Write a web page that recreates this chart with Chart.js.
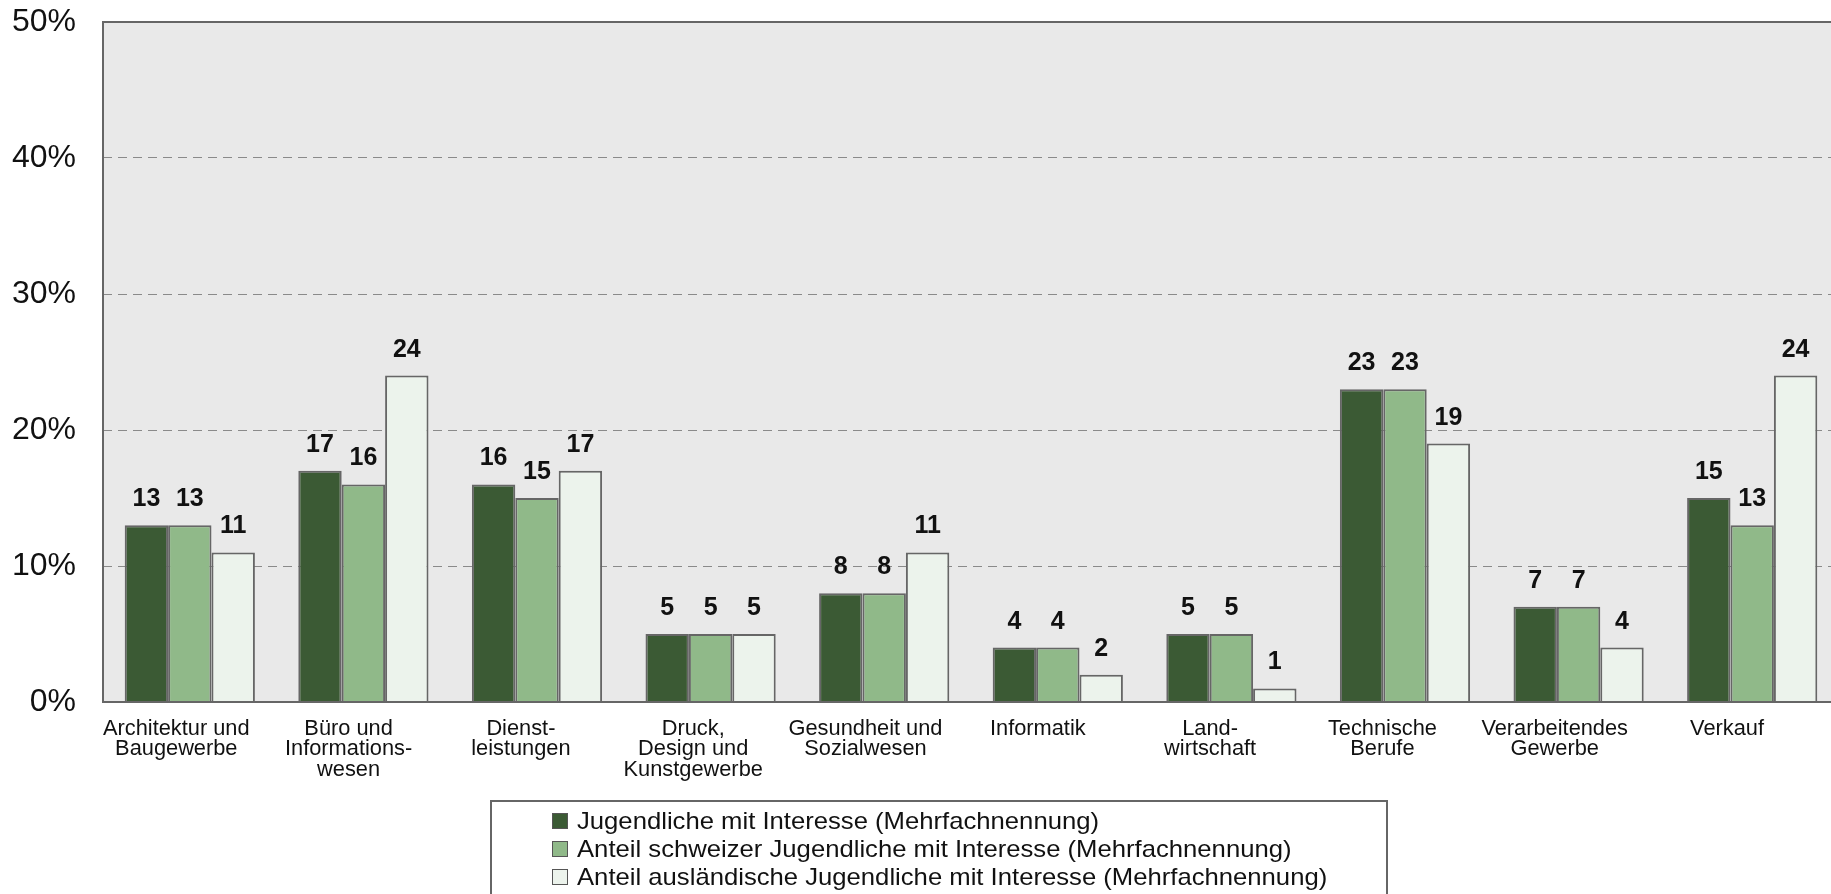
<!DOCTYPE html>
<html>
<head>
<meta charset="utf-8">
<script src="https://cdn.jsdelivr.net/npm/chart.js@4/dist/chart.umd.min.js"></script>
<style>
  html, body { margin: 0; padding: 0; background: #ffffff; overflow: hidden; }
  canvas { display: block; }
</style>
</head>
<body>
<canvas id="chart" width="1840" height="894"></canvas>
<script>
// Berufsfelder (x-axis categories, multi-line labels)
const categories = [
  ['Architektur und', 'Baugewerbe'],
  ['Büro und', 'Informations-', 'wesen'],
  ['Dienst-', 'leistungen'],
  ['Druck,', 'Design und', 'Kunstgewerbe'],
  ['Gesundheit und', 'Sozialwesen'],
  ['Informatik'],
  ['Land-', 'wirtschaft'],
  ['Technische', 'Berufe'],
  ['Verarbeitendes', 'Gewerbe'],
  ['Verkauf']
];

// Series values in percent
const jugendlicheTotal   = [13, 17, 16, 5, 8, 4, 5, 23, 7, 15];
const jugendlicheSchweiz = [13, 16, 15, 5, 8, 4, 5, 23, 7, 13];
const jugendlicheAusland = [11, 24, 17, 5, 11, 2, 1, 19, 4, 24];

const seriesNames = [
  'Jugendliche mit Interesse (Mehrfachnennung)',
  'Anteil schweizer Jugendliche mit Interesse (Mehrfachnennung)',
  'Anteil ausländische Jugendliche mit Interesse (Mehrfachnennung)'
];

// Y-axis ticks
const yTicks = [0, 10, 20, 30, 40, 50];

const FONT = '"Liberation Sans", Arial, sans-serif';
const BORDER = '#666666';

// Plot background and frame
const plotFrame = {
  id: 'plotFrame',
  beforeDraw(chart) {
    const { ctx, chartArea: a } = chart;
    ctx.save();
    ctx.fillStyle = '#e9e9e9';
    ctx.fillRect(a.left, a.top, a.right - a.left, a.bottom - a.top);
    ctx.restore();
  },
  afterDatasetsDraw(chart) {
    const { ctx, chartArea: a } = chart;
    ctx.save();
    ctx.strokeStyle = BORDER;
    ctx.lineWidth = 2;
    ctx.strokeRect(a.left, a.top, a.right - a.left, a.bottom - a.top);
    ctx.restore();
  }
};

// Value labels above each bar
const valueLabels = {
  id: 'valueLabels',
  afterDatasetsDraw(chart) {
    const { ctx } = chart;
    ctx.save();
    ctx.font = 'bold 25px ' + FONT;
    ctx.fillStyle = '#111111';
    ctx.textAlign = 'center';
    ctx.textBaseline = 'alphabetic';
    chart.data.datasets.forEach((ds, i) => {
      chart.getDatasetMeta(i).data.forEach((bar, j) => {
        ctx.fillText(String(ds.data[j]), bar.x, bar.y - 19);
      });
    });
    ctx.restore();
  }
};

// Category labels under the axis, laid out at a slightly tighter pitch than the bar groups
const categoryLabels = {
  id: 'categoryLabels',
  afterDraw(chart) {
    const { ctx, chartArea: a } = chart;
    const xs = chart.scales.x;
    const n = chart.data.labels.length;
    const x0 = xs.getPixelForValue(0) - 13.5;
    const pitch = (xs.getPixelForValue(n - 1) - xs.getPixelForValue(0)) / (n - 1) - 1.3;
    ctx.save();
    ctx.font = '21.8px ' + FONT;
    ctx.fillStyle = '#111111';
    ctx.textAlign = 'center';
    ctx.textBaseline = 'top';
    chart.data.labels.forEach((lines, i) => {
      const cx = x0 + pitch * i;
      lines.forEach((l, k) => ctx.fillText(l, cx, a.bottom + 16 + k * 20.4));
    });
    ctx.restore();
  }
};

// Boxed legend below the chart
const boxedLegend = {
  id: 'boxedLegend',
  afterDraw(chart) {
    const { ctx } = chart;
    ctx.save();
    ctx.strokeStyle = BORDER;
    ctx.lineWidth = 2;
    ctx.strokeRect(491, 801, 896, 200);
    ctx.font = '24px ' + FONT;
    ctx.textBaseline = 'middle';
    ctx.textAlign = 'left';
    const first = ctx.measureText(chart.data.datasets[0].label).width;
    const sx = 522 / first;
    const rows = [821, 849, 877];
    chart.data.datasets.forEach((ds, i) => {
      const y = rows[i];
      ctx.fillStyle = ds.backgroundColor;
      ctx.fillRect(552, y - 8, 16, 16);
      ctx.strokeStyle = '#555555';
      ctx.lineWidth = 1;
      ctx.strokeRect(552.5, y - 7.5, 15, 15);
      ctx.save();
      ctx.translate(577, y);
      ctx.scale(sx, 1);
      ctx.fillStyle = '#111111';
      ctx.fillText(ds.label, 0, 1);
      ctx.restore();
    });
    ctx.restore();
  }
};

const barStyle = { borderColor: BORDER, borderWidth: 2, barPercentage: 1.0, categoryPercentage: 0.75 };

new Chart(document.getElementById('chart'), {
  type: 'bar',
  data: {
    labels: categories,
    datasets: [
      Object.assign({ label: seriesNames[0], data: jugendlicheTotal,   backgroundColor: '#3b5a34' }, barStyle),
      Object.assign({ label: seriesNames[1], data: jugendlicheSchweiz, backgroundColor: '#90b989' }, barStyle),
      Object.assign({ label: seriesNames[2], data: jugendlicheAusland, backgroundColor: '#ecf3ec' }, barStyle)
    ]
  },
  options: {
    responsive: false,
    animation: false,
    devicePixelRatio: 1,
    layout: { padding: { top: 22, right: 1, bottom: 0, left: 0 } },
    plugins: {
      legend: { display: false },
      tooltip: { enabled: false }
    },
    scales: {
      x: {
        grid: { display: false, drawTicks: false },
        border: { display: false },
        ticks: { display: false },
        afterFit(scale) { scale.height = 192; }
      },
      y: {
        min: 0,
        max: 50,
        afterBuildTicks(scale) { scale.ticks = yTicks.map(v => ({ value: v })); },
        grid: {
          color: '#8a8a8a',
          lineWidth: 1,
          drawTicks: true,
          tickLength: 27,
          tickColor: 'rgba(0,0,0,0)'
        },
        border: { display: false, dash: [9, 6] },
        ticks: {
          color: '#111111',
          font: { family: FONT, size: 32, lineHeight: 1.0 },
          padding: 0,
          callback: v => v + '%'
        },
        afterFit(scale) { scale.width = 103; }
      }
    }
  },
  plugins: [plotFrame, valueLabels, categoryLabels, boxedLegend]
});
</script>
</body>
</html>
